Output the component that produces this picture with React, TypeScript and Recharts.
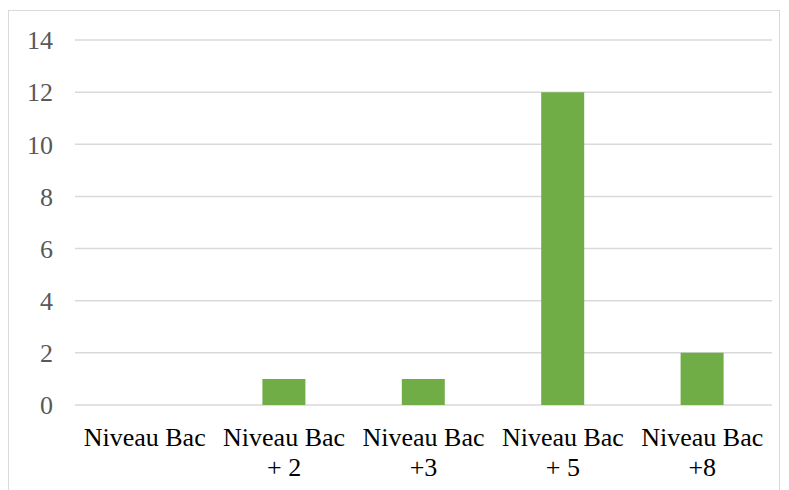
import React from 'react'
import { BarChart, Bar, XAxis, YAxis, CartesianGrid } from 'recharts'

const categories = ['Niveau Bac', 'Niveau Bac\n+ 2', 'Niveau Bac\n+3', 'Niveau Bac\n+ 5', 'Niveau Bac\n+8']
const values = [0, 1, 1, 12, 2]
const yTicks = [0, 2, 4, 6, 8, 10, 12, 14]

const data = categories.map((name, i) => ({ name, value: values[i] }))

const font = 'Liberation Serif, Times New Roman, serif'

const XTick = ({ x, y, payload }: any) => {
  const lines = String(payload.value).split('\n')
  return (
    <text x={x} textAnchor="middle" fill="#000" style={{ fontSize: 26, fontFamily: font }}>
      {lines.map((line, i) => (
        <tspan key={i} x={x} y={y + 41 + i * 30}>
          {line}
        </tspan>
      ))}
    </text>
  )
}

export default function App() {
  return (
    <div style={{ position: 'absolute', left: 0, top: 0, width: 789, height: 490, background: '#fff' }}>
      <div
        style={{
          position: 'absolute',
          left: 8,
          top: 10,
          width: 772,
          height: 490,
          border: '1.5px solid #d9d9d9',
          boxSizing: 'border-box'
        }}
      />
      <div style={{ position: 'absolute', left: 0, top: 0 }}>
        <BarChart
          width={789}
          height={490}
          data={data}
          margin={{ top: 40, right: 17, bottom: 0, left: 0 }}
        >
          <CartesianGrid vertical={false} stroke="#d9d9d9" strokeWidth={1.5} />
          <XAxis
            dataKey="name"
            axisLine={false}
            tickLine={false}
            tickSize={0}
            tickMargin={0}
            height={85}
            interval={0}
            tick={<XTick />}
          />
          <YAxis
            width={75}
            domain={[0, 14]}
            ticks={yTicks}
            axisLine={false}
            tickLine={false}
            tickSize={0}
            tickMargin={22}
            tick={{ fill: '#595959', fontSize: 26, style: { fontFamily: font } }}
          />
          <Bar dataKey="value" fill="#70ad47" barSize={43} isAnimationActive={false} />
        </BarChart>
      </div>
    </div>
  )
}
